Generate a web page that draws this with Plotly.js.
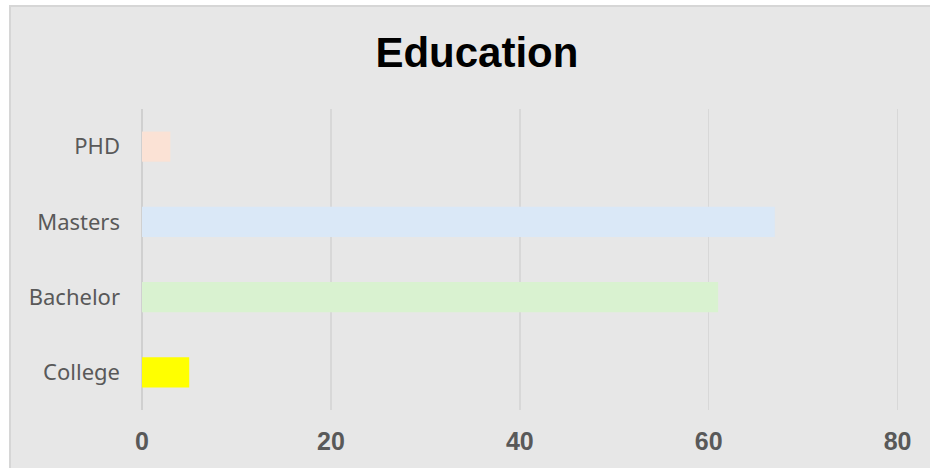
<!DOCTYPE html>
<html>
<head>
<meta charset="utf-8">
<script src="https://cdn.plot.ly/plotly-3.0.1.min.js"></script>
<style>
  html, body { margin: 0; padding: 0; background: #ffffff; overflow: hidden; width: 930px; height: 468px; }
  #chart { position: absolute; left: 9px; top: 5px; width: 919px; height: 461px;
           border-left: 2px solid #d6d6d6; border-top: 2px solid #d6d6d6; background: #e7e7e7; }
</style>
</head>
<body>
<div id="chart"></div>
<script>
const categories = ['College', 'Bachelor', 'Masters', 'PHD'];
const values = [5, 61, 67, 3];
const barColors = ['#ffff00', '#d9f2d0', '#dae8f7', '#fbe2d5'];
const xTicks = [0, 20, 40, 60, 80];
const chartTitle = 'Education';

const trace = {
  type: 'bar',
  orientation: 'h',
  y: categories,
  x: values,
  marker: { color: barColors, line: { width: 0 } },
  hoverinfo: 'x+y'
};

const layout = {
  width: 919,
  height: 461,
  paper_bgcolor: '#e7e7e7',
  plot_bgcolor: '#e7e7e7',
  margin: { l: 131, r: 30.6, t: 102, b: 58 },
  showlegend: false,
  bargap: 0.6,
  title: {
    text: chartTitle,
    font: { family: 'Liberation Sans, Arial, sans-serif', size: 42, color: '#000000', weight: 'bold' },
    xref: 'container', x: 0.507, xanchor: 'center',
    yref: 'container', y: 0.902, yanchor: 'middle'
  },
  xaxis: {
    range: [0, 80.15],
    tickvals: xTicks,
    ticktext: xTicks.map(String),
    showgrid: true,
    gridcolor: '#d8d8d8',
    gridwidth: 1.5,
    zeroline: true,
    zerolinecolor: '#d0d0d0',
    zerolinewidth: 2,
    showline: false,
    ticks: '',
    ticklabelstandoff: 14,
    tickfont: { family: 'Liberation Sans, Arial, sans-serif', size: 25, color: '#595959', weight: 'bold' },
    fixedrange: true
  },
  yaxis: {
    type: 'category',
    categoryorder: 'array',
    categoryarray: categories,
    showgrid: false,
    zeroline: false,
    showline: false,
    ticks: '',
    ticklabelstandoff: 21,
    tickfont: { family: 'Noto Sans, sans-serif', size: 22, color: '#595959' },
    fixedrange: true
  }
};

Plotly.newPlot('chart', [trace], layout, { displayModeBar: false, staticPlot: true });
</script>
</body>
</html>
